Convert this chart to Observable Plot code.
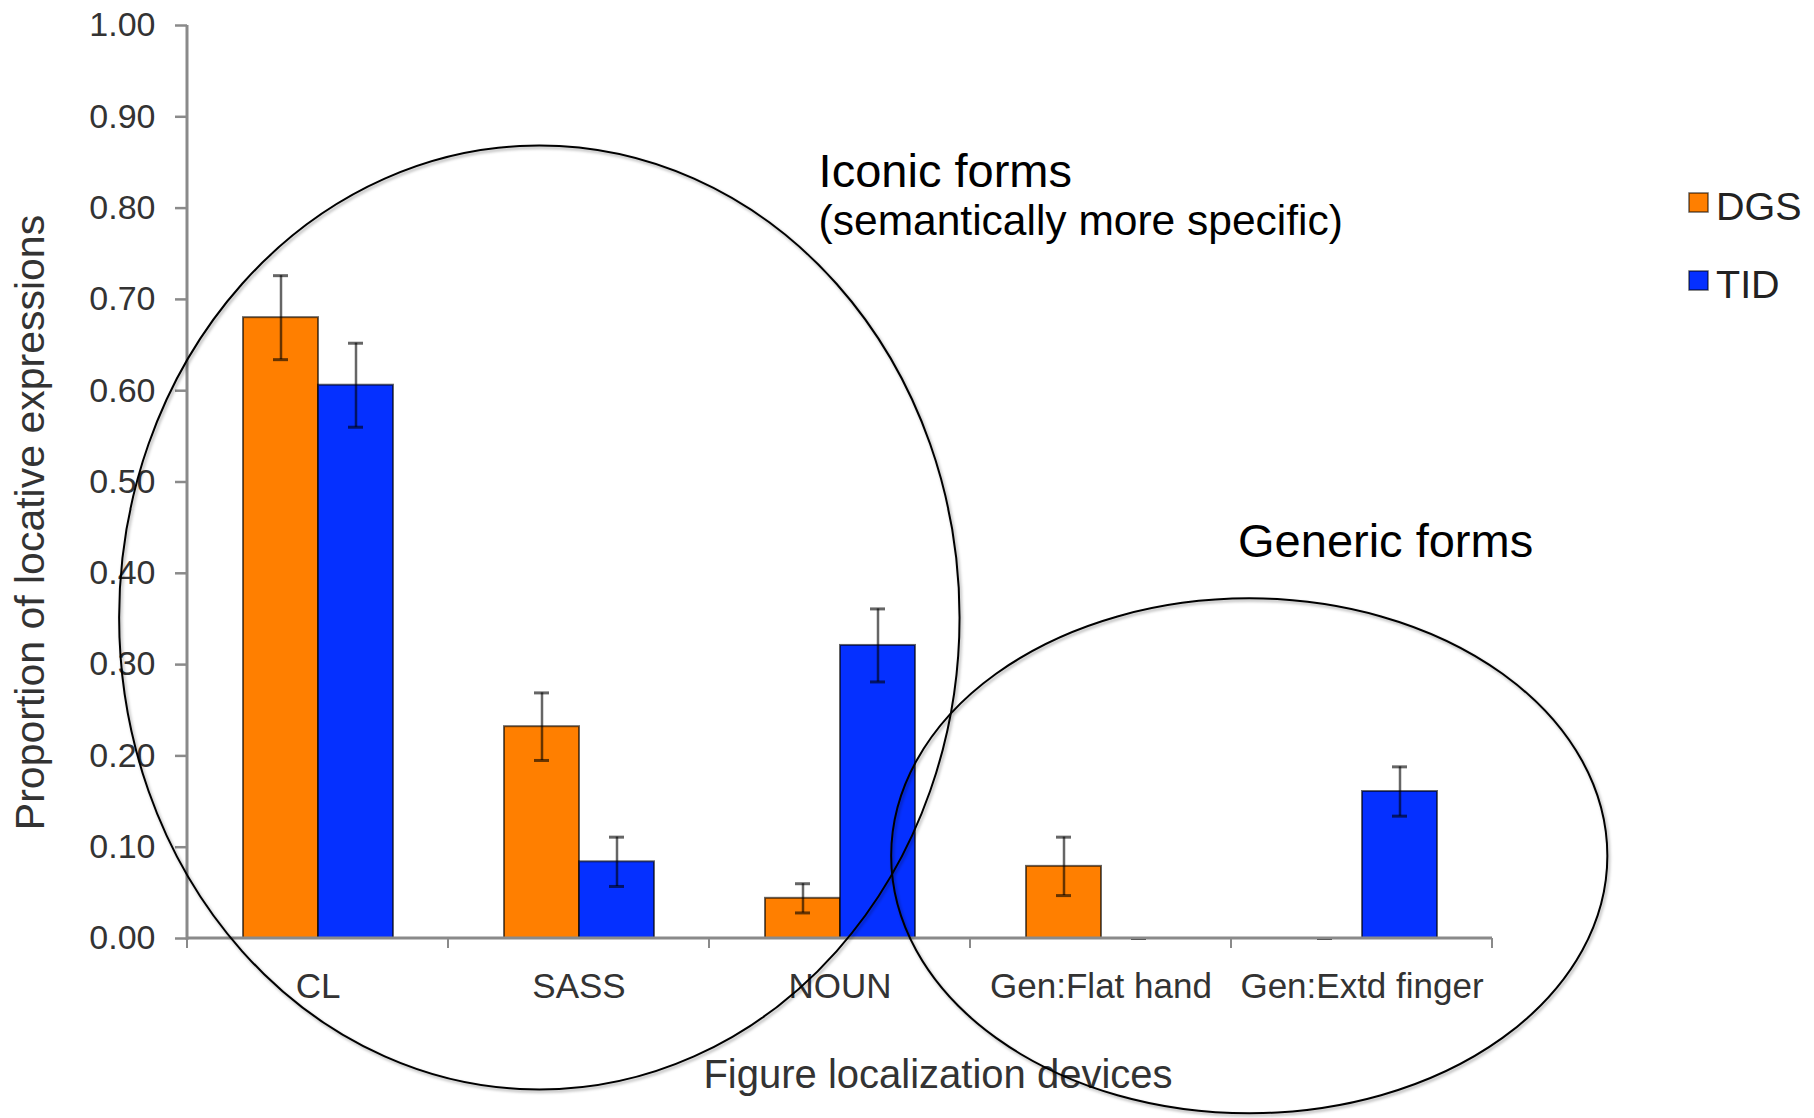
<!DOCTYPE html>
<html>
<head>
<meta charset="utf-8">
<script src="https://cdn.jsdelivr.net/npm/d3@7"></script>
<script src="https://cdn.jsdelivr.net/npm/@observablehq/plot@0.6"></script>
<style>
  html, body { margin: 0; padding: 0; background: #fff; }
  svg { display: block; }
</style>
</head>
<body>
<div id="chart"></div>
<script>
// Figure localization devices: proportions of locative expressions per sign language
const categories = ["CL", "SASS", "NOUN", "Gen:Flat hand", "Gen:Extd finger"];
const groups = ["DGS", "TID"];
const groupColors = ["#ff7f00", "#0530ff"];

const dgsValues = [0.680, 0.232, 0.044, 0.079, 0.000];
const dgsErrors = [0.046, 0.037, 0.016, 0.032, 0.000];
const tidValues = [0.606, 0.084, 0.321, 0.000, 0.161];
const tidErrors = [0.046, 0.027, 0.040, 0.000, 0.027];

const yTicks = [0.00, 0.10, 0.20, 0.30, 0.40, 0.50, 0.60, 0.70, 0.80, 0.90, 1.00];

const yTitle = "Proportion of locative expressions";
const xTitle = "Figure localization devices";

// Circled groupings: centre and radii in category steps (x) and proportion units (y)
const groupingNames = ["Iconic forms", "Generic forms"];
const groupingNotes = ["(semantically more specific)", ""];
const groupingEllipses = [
  {cx: 1.35, cy: 0.351, rx: 1.61, ry: 0.517},
  {cx: 4.07, cy: 0.090, rx: 1.372, ry: 0.282}
];
const groupingLabelAt = [
  {x: 2.42, y: 0.823, noteY: 0.770},
  {x: 4.027, y: 0.417}
];

// Long-format rows for the grouped bars
const rows = categories.flatMap((category, i) => [
  {category, group: groups[0], value: dgsValues[i], error: dgsErrors[i]},
  {category, group: groups[1], value: tidValues[i], error: tidErrors[i]}
]);

const W = 1814, H = 1118;
const font = "'Liberation Sans', Arial, Helvetica, sans-serif";

const plot = Plot.plot({
  width: W,
  height: H,
  marginLeft: 187,
  marginRight: 322,
  marginTop: 25,
  marginBottom: 180,
  style: {fontFamily: font, fontSize: "34px", color: "#333", background: "white", overflow: "visible"},
  facet: {data: rows, x: "category"},
  fx: {domain: categories, padding: 0, tickSize: 0, tickPadding: 35, label: null, axis: "bottom"},
  x: {domain: groups, paddingInner: 0, paddingOuter: 0.74, axis: null},
  y: {domain: [0, 1], ticks: yTicks, tickFormat: d3.format(".2f"), tickSize: 12, tickPadding: 20, label: null},
  color: {domain: groups, range: groupColors},
  marks: [
    Plot.barY(rows, {
      filter: d => d.value > 0,
      x: "group", y: "value", fill: "group",
      stroke: "#000", strokeOpacity: 0.6, strokeWidth: 2
    }),
    Plot.ruleX(rows, {
      x: "group", y1: d => d.value - d.error, y2: d => d.value + d.error,
      stroke: "#000", strokeOpacity: 0.6, strokeWidth: 2.5
    }),
    Plot.tickY(rows, {
      x: "group", y: d => d.value + d.error,
      stroke: "#000", strokeOpacity: 0.6, strokeWidth: 3, insetLeft: 30, insetRight: 30
    }),
    Plot.tickY(rows, {
      x: "group", y: d => d.value - d.error,
      stroke: "#000", strokeOpacity: 0.6, strokeWidth: 3, insetLeft: 30, insetRight: 30
    })
  ]
});

document.getElementById("chart").appendChild(plot);

const svg = d3.select(plot);
const fx = plot.scale("fx");
const y = plot.scale("y");
const color = plot.scale("color");
const x0 = fx.range[0], x1 = fx.range[1];
const step = fx.step ?? (x1 - x0) / categories.length;
const xAt = u => x0 + u * step;
const y0 = y.apply(0);
const yUnit = y.apply(0) - y.apply(1);

// Tick styling
svg.selectAll('g[aria-label^="y-axis"] line, g[aria-label^="y-axis"] path')
  .attr("stroke", "#8a8a8a").attr("stroke-width", 2.5);
svg.selectAll('g[aria-label^="fx-axis"] text').style("font-size", "35px");

// Axis lines and category boundary ticks
const axes = svg.append("g").attr("stroke", "#8a8a8a").attr("stroke-width", 3).attr("fill", "none");
axes.append("line").attr("x1", x0).attr("x2", x0).attr("y1", y.apply(1)).attr("y2", y0 + 2);
axes.append("line").attr("x1", x0).attr("x2", x1).attr("y1", y0).attr("y2", y0);
axes.selectAll("line.b").data(d3.range(categories.length + 1)).join("line")
  .attr("class", "b")
  .attr("x1", i => xAt(i)).attr("x2", i => xAt(i))
  .attr("y1", y0).attr("y2", y0 + 10)
  .attr("stroke-width", 2);

// Axis titles
svg.append("text")
  .attr("transform", `translate(44,${(y.apply(0) + y.apply(1)) / 2 + 41}) rotate(-90)`)
  .attr("text-anchor", "middle")
  .attr("fill", "#333")
  .style("font", `41px ${font}`)
  .text(yTitle);
svg.append("text")
  .attr("x", 938).attr("y", 1088)
  .attr("text-anchor", "middle")
  .attr("fill", "#333")
  .style("font", `40px ${font}`)
  .text(xTitle);

// Grouping ellipses with a soft shadow
const defs = svg.append("defs");
const f = defs.append("filter").attr("id", "soft-shadow")
  .attr("x", "-10%").attr("y", "-10%").attr("width", "120%").attr("height", "120%");
f.append("feDropShadow").attr("dx", 1.5).attr("dy", 2).attr("stdDeviation", 1.5)
  .attr("flood-color", "#000").attr("flood-opacity", 0.35);

svg.append("g")
  .attr("fill", "none").attr("stroke", "#000").attr("stroke-width", 2)
  .attr("filter", "url(#soft-shadow)")
  .selectAll("ellipse").data(groupingEllipses).join("ellipse")
  .attr("cx", d => xAt(d.cx))
  .attr("cy", d => y.apply(d.cy))
  .attr("rx", d => d.rx * step)
  .attr("ry", d => d.ry * yUnit);

// Grouping labels
const labels = svg.append("g").attr("fill", "#000").attr("text-anchor", "start");
groupingNames.forEach((name, i) => {
  const at = groupingLabelAt[i];
  labels.append("text")
    .attr("x", xAt(at.x)).attr("y", y.apply(at.y))
    .attr("text-anchor", "start")
    .style("font", `47px ${font}`)
    .text(name);
  if (groupingNotes[i]) {
    labels.append("text")
      .attr("x", xAt(at.x)).attr("y", y.apply(at.noteY))
      .attr("text-anchor", "start")
      .style("font", `42.5px ${font}`)
      .text(groupingNotes[i]);
  }
});

// Legend
const legend = svg.append("g").attr("transform", `translate(${W - 125},193)`).attr("text-anchor", "start");
groups.forEach((g, i) => {
  const row = legend.append("g").attr("transform", `translate(0,${i * 78})`);
  row.append("rect").attr("width", 19).attr("height", 19)
    .attr("fill", color.apply(g)).attr("stroke", "#000").attr("stroke-opacity", 0.6).attr("stroke-width", 1.5);
  row.append("text").attr("x", 27).attr("y", 27)
    .attr("text-anchor", "start")
    .attr("fill", "#222")
    .style("font", `39.5px ${font}`)
    .text(g);
});
</script>
</body>
</html>
